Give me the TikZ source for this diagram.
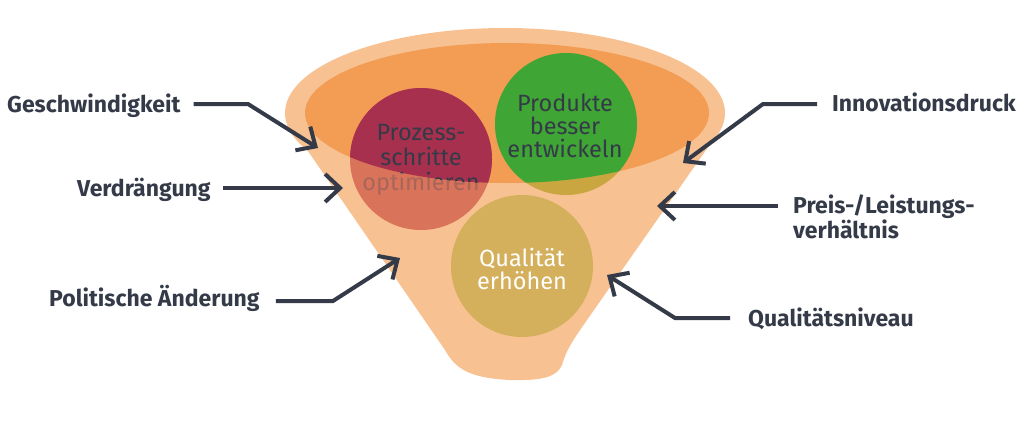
\documentclass[tikz,border=0pt]{standalone}
\usepackage{fontspec}
\setmainfont{Fira Sans}
\usetikzlibrary{arrows.meta}
\definecolor{peach}{HTML}{F7C192}
\definecolor{orangeI}{HTML}{F29C54}
\definecolor{redtop}{HTML}{A8304F}
\definecolor{redlow}{HTML}{D9735A}
\definecolor{greentop}{HTML}{3FA535}
\definecolor{greenlow}{HTML}{C9A640}
\definecolor{gold}{HTML}{D5B05C}
\definecolor{ink}{HTML}{343A47}
\definecolor{fadeink}{HTML}{A8665A}
\begin{document}
\begin{tikzpicture}[x=1pt,y=-1pt,
  lab/.style={font=\bfseries\fontsize{23}{24}\selectfont, text=ink, inner sep=0pt},
  ctext/.style={font=\fontsize{23.5}{24}\selectfont, align=center, inner sep=0pt},
  ball/.style={circle, minimum size=142pt, inner sep=0pt},
  conn/.style={draw=ink, line width=4pt, -{Straight Barb[length=15pt,width=28pt]}}]
\useasboundingbox (0,0) rectangle (1024,420);
% funnel
\fill[peach] (505,113) ellipse [x radius=220, y radius=85];
\fill[peach] (290,125) -- (445,350) .. controls (455,368) and (468,378) .. (510,380)
  .. controls (545,381) and (557,376) .. (562,365) .. controls (566,350) and (575,337) .. (587,320)
  -- (720,130) -- cycle;
\fill[orangeI] (507,113) ellipse [x radius=202, y radius=70];
% circles
\node[ball, fill=redlow] (proc) at (421,159) {};
\node[ball, fill=greenlow] (prod) at (566,124) {};
\node[ball, fill=gold] (qual) at (522,266) {};
\node[ctext, text=fadeink, font=\fontsize{23.5}{25}\selectfont] (proct) at (421,160) {Prozess-\\schritte\\optimieren};
\node[ctext, text=ink, font=\fontsize{23.5}{23}\selectfont] (prodt) at (565,126) {Produkte\\besser\\entwickeln};
\node[ctext, text=white, font=\fontsize{23.5}{23}\selectfont] (qualt) at (522,269) {Qualität\\erhöhen};
\begin{scope}
  \clip (507,113) ellipse [x radius=202, y radius=70];
  \fill[redtop] (proc.center) circle (71);
  \fill[greentop] (prod.center) circle (71);
  \node[ctext, text=ink, font=\fontsize{23.5}{25}\selectfont] at (proct.center) {Prozess-\\schritte\\optimieren};
  \node[ctext, text=ink, font=\fontsize{23.5}{23}\selectfont] at (prodt.center) {Produkte\\besser\\entwickeln};
\end{scope}
% labels
\node[lab, anchor=base west] (gesch) at (7,112) {Geschwindigkeit};
\node[lab, anchor=base west] (verd) at (77,196) {Verdrängung};
\node[lab, anchor=base west] (polit) at (49,306) {Politische Änderung};
\node[lab, anchor=base west] (innov) at (832,111) {Innovationsdruck};
\node[lab, anchor=north west, align=left, font=\bfseries\fontsize{23}{25}\selectfont] (preis) at (793,195) {Preis-/Leistungs-\\verhältnis};
\node[lab, anchor=base west] (qniv) at (748,326) {Qualitätsniveau};
% connectors
\coordinate (t1) at (318,148);
\coordinate (t2) at (343,188);
\coordinate (t3) at (400,258);
\coordinate (t4) at (683,163);
\coordinate (t5) at (657,206);
\coordinate (t6) at (607,275);
\draw[conn] ([shift={(13,-8)}]gesch.base east) -- (248,104) -- (t1);
\draw[conn] ([shift={(12,-8)}]verd.base east) -- (t2);
\draw[conn] ([shift={(16,-5)}]polit.base east) -- (333,301) -- (t3);
\draw[conn] ([shift={(-15,-7)}]innov.base west) -- (763,104) -- (t4);
\draw[conn] (preis.north west) ++(-15,11) -- (t5);
\draw[conn] ([shift={(-18,-8)}]qniv.base west) -- (675,318) -- (t6);
\end{tikzpicture}
\end{document}
